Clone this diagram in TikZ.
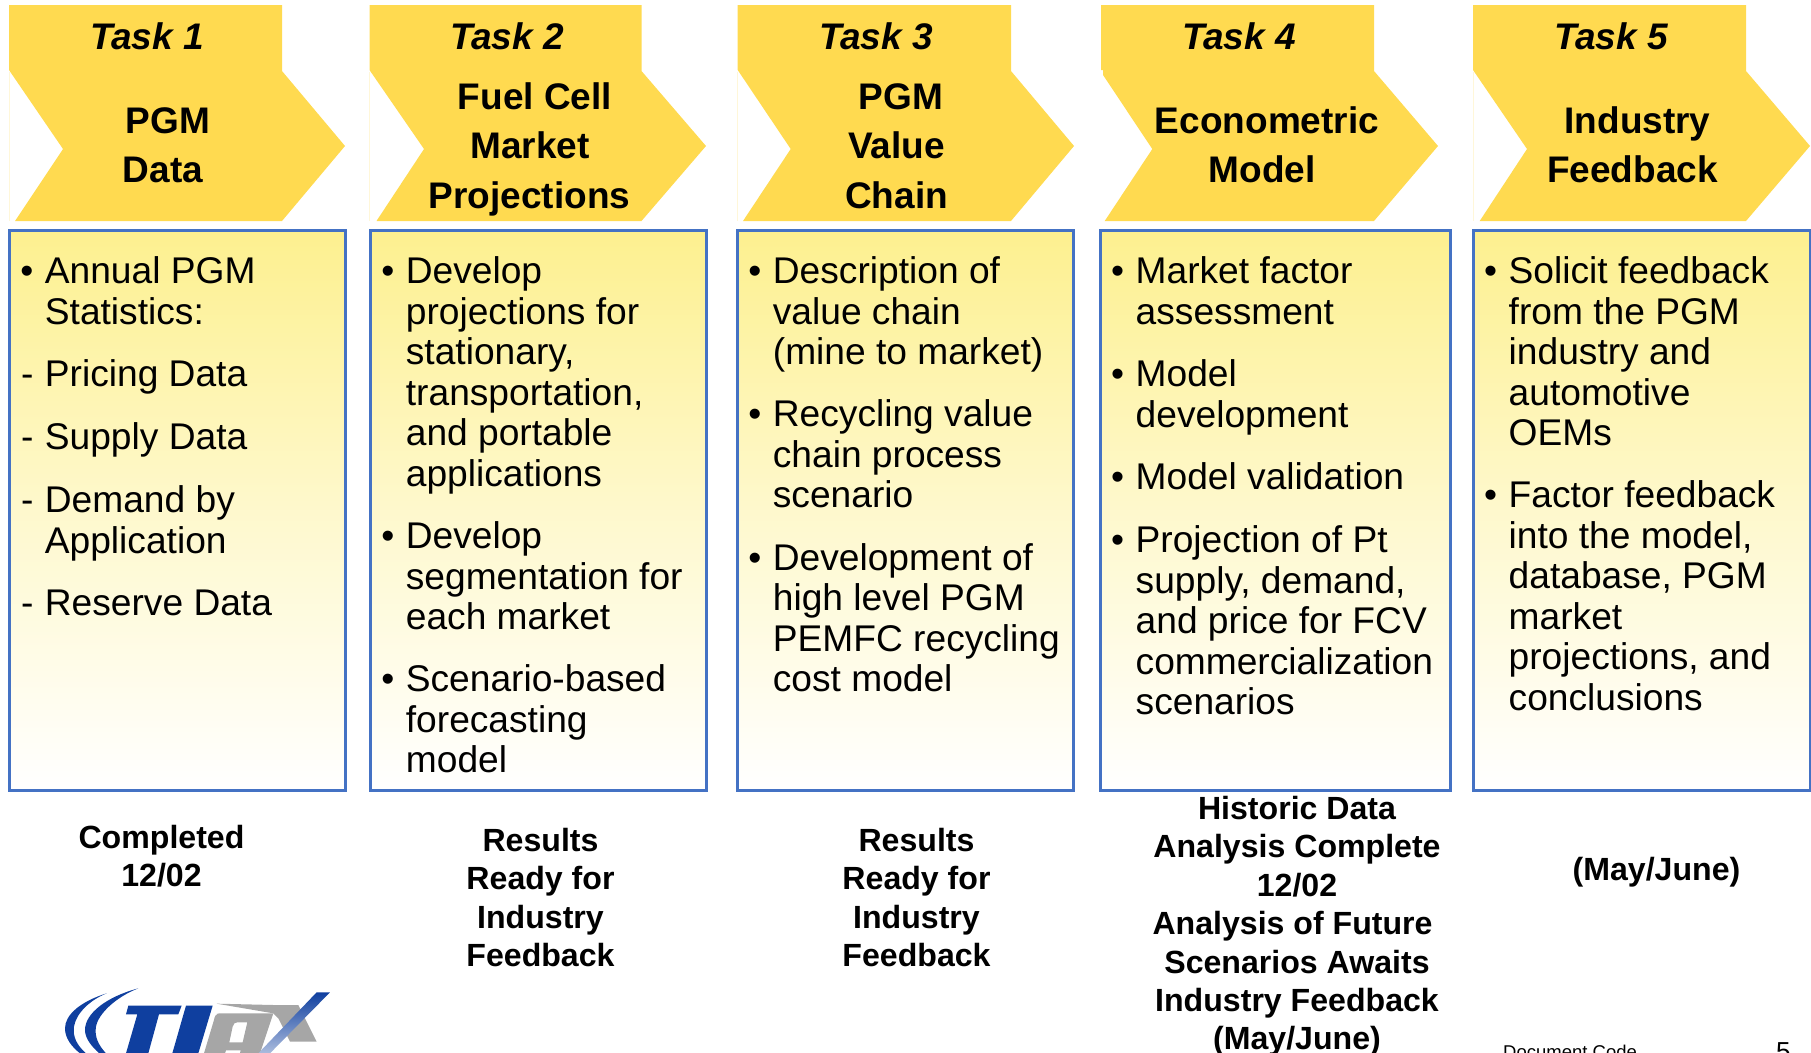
\documentclass[tikz,border=0pt]{standalone}
\usepackage{fontspec}
\setmainfont{Liberation Sans}
\definecolor{gold}{HTML}{FFDA50}
\definecolor{boxblue}{HTML}{4472C4}
\definecolor{boxtop}{HTML}{FDF08F}
\definecolor{logoblue}{HTML}{0F3F9F}
\definecolor{logogrey}{HTML}{A6A6A6}
\tikzset{
  chevron/.style={fill=gold,draw=none},
  edgeline/.style={draw=gold!22,line width=0.8pt},
  taskbox/.style={draw=boxblue,line width=3pt,top color=boxtop,bottom color=white,middle color=boxtop!45!white},
  headline/.style={anchor=base,inner sep=0pt,font=\fontsize{37}{37}\selectfont\bfseries},
  tasktitle/.style={anchor=base,inner sep=0pt,font=\fontsize{37}{37}\selectfont\bfseries\itshape},
  bodypara/.style={anchor=north west,inner sep=0pt,align=left,font=\fontsize{37.15}{40.5}\selectfont},
  result/.style={anchor=north,inner sep=0pt,align=center,font=\fontsize{32.1}{38.4}\selectfont\bfseries},
  logomark/.style={fill=logoblue,draw=none},
  logogreyed/.style={fill=logogrey,draw=none},
}
\newcommand{\bl}{\leavevmode\llap{•\hspace{11.5pt}}}
\newcommand{\da}{\leavevmode\llap{-\hspace{11.5pt}}}
\newcommand{\chev}[5]{% left, top-right, tip, lower-left, notch
  \fill[chevron] (#1,5) -- (#2,5) -- (#2,71) -- (#3,146) -- (#2,221) -- (#4,221) -- (#5,149) -- (#1,70) -- cycle;
  \draw[edgeline] (#1,72) -- (#1,221);
}
\begin{document}
\begin{tikzpicture}[x=1pt,y=-1pt]
\useasboundingbox (0,0) rectangle (1811,1052);
% chevrons
\chev{9}{282}{345}{15}{63}
\chev{369.5}{641.5}{706}{376.5}{424}
\chev{737.7}{1011}{1074}{743}{790.7}
\fill[chevron] (1101,5) -- (1374,5) -- (1374,71) -- (1438,146) -- (1374,221) -- (1104.7,221) -- (1152.3,149) -- (1103,75) -- (1103,70) -- (1101,70) -- cycle;
\chev{1473}{1746}{1810}{1479.7}{1527}
% boxes
\path[taskbox] (9.5,230) rectangle (345,790);
\path[taskbox] (370.5,230) rectangle (706.5,790);
\path[taskbox] (737.5,230) rectangle (1073,790);
\path[taskbox] (1100.5,230) rectangle (1450.5,790);
\path[taskbox] (1473.5,230) rectangle (1810,790);
% titles
\node[tasktitle] (t1) at (147,49) {Task 1};
\node[tasktitle] (t2) at (507,49) {Task 2};
\node[tasktitle] (t3) at (876,49) {Task 3};
\node[tasktitle] (t4) at (1239,49) {Task 4};
\node[tasktitle] (t5) at (1611,49) {Task 5};
% headers
\node[headline] (h1a) at (168,133) {PGM};
\node[headline] (h1b) at (163,182) {Data};
\node[headline] (h2a) at (535,109) {Fuel Cell};
\node[headline] (h2b) at (530,158) {Market};
\node[headline] (h2c) at (529.5,208) {Projections};
\node[headline] (h3a) at (901,109) {PGM};
\node[headline] (h3b) at (896.5,158) {Value};
\node[headline] (h3c) at (896.5,208) {Chain};
\node[headline] (h4a) at (1267,133) {Econometric};
\node[headline] (h4b) at (1262,182) {Model};
\node[headline] (h5a) at (1637.5,133) {Industry};
\node[headline] (h5b) at (1632.5,182) {Feedback};
% body T1
\node[bodypara] (a1) at (44.7,256.4) {\bl Annual PGM\\Statistics:};
\node[bodypara] (a2) at (44.7,359.4) {\da Pricing Data};
\node[bodypara] (a3) at (44.7,422.4) {\da Supply Data};
\node[bodypara] (a4) at (44.7,485.4) {\da Demand by\\Application};
\node[bodypara] (a5) at (44.7,590) {\da Reserve Data};
% body T2
\node[bodypara] (b1) at (405.7,256.4) {\bl Develop\\projections for\\stationary,\\transportation,\\and portable\\applications};
\node[bodypara] (b2) at (405.7,521.4) {\bl Develop\\segmentation for\\each market};
\node[bodypara] (b3) at (405.7,664.4) {\bl Scenario-based\\forecasting\\model};
% body T3
\node[bodypara] (c1) at (772.7,256.4) {\bl Description of\\value chain\\(mine to market)};
\node[bodypara] (c2) at (772.7,399.4) {\bl Recycling value\\chain process\\scenario};
\node[bodypara] (c3) at (772.7,543) {\bl Development of\\high level PGM\\PEMFC recycling\\cost model};
% body T4
\node[bodypara] (d1) at (1135.5,256.4) {\bl Market factor\\assessment};
\node[bodypara] (d2) at (1135.5,359.4) {\bl Model\\development};
\node[bodypara] (d3) at (1135.5,462.4) {\bl Model validation};
\node[bodypara] (d4) at (1135.5,525.4) {\bl Projection of Pt\\supply, demand,\\and price for FCV\\commercialization\\scenarios};
% body T5
\node[bodypara] (e1) at (1508.5,256.4) {\bl Solicit feedback\\from the PGM\\industry and\\automotive\\OEMs};
\node[bodypara] (e2) at (1508.5,480.5) {\bl Factor feedback\\into the model,\\database, PGM\\market\\projections, and\\conclusions};
% results
\node[result] (r1) at (161.5,825) {Completed\\12/02};
\node[result] (r2) at (540.5,828) {Results\\Ready for\\Industry\\Feedback};
\node[result] (r3) at (916.5,828) {Results\\Ready for\\Industry\\Feedback};
\node[result] (r4) at (1297,796) {Historic Data\\Analysis Complete\\12/02\\Analysis of Future\rule{9pt}{0pt}\\Scenarios Awaits\\Industry Feedback\\(May/June)};
\node[result] (r5) at (1656.5,857) {(May/June)};
% footer
\node[anchor=base west,inner sep=0pt,font=\fontsize{18.5}{20}\selectfont] (code) at (1503,1058) {Document Code};
\node[anchor=base west,inner sep=0pt,font=\fontsize{26}{28}\selectfont] (page) at (1776,1060) {5};
% logo (px = 60 + zx/3, 985 + zy/3 in the zoomed crop)
\begin{scope}[shift={(60,985)},x=0.3333pt,y=-0.3333pt]
  \clip (0,0) rectangle (840,201);
  \fill[logomark] (140,25) .. controls (60,50) and (15,90) .. (15,130) .. controls (15,160) and (35,185) .. (60,205) -- (78,205) .. controls (50,180) and (38,155) .. (42,125) .. controls (48,85) and (90,45) .. (140,25) -- cycle;
  \fill[logomark] (235,10) .. controls (140,35) and (75,85) .. (75,135) .. controls (75,160) and (95,185) .. (118,205) -- (138,205) .. controls (115,180) and (103,155) .. (108,125) .. controls (115,85) and (170,35) .. (235,10) -- cycle;
  \fill[logomark] (205,62) -- (365,62) -- (355,88) -- (297,88) -- (265,205) -- (198,205) -- (232,88) -- (198,88) -- cycle;
  \fill[logomark] (378,62) -- (458,62) -- (415,205) -- (337,205) -- cycle;
  \fill[logogreyed] (470,56) -- (640,60) -- (715,60) -- (770,170) -- (690,170) -- (655,100) -- (640,85) -- cycle;
  \fill[logogreyed,even odd rule] (470,85) -- (640,85) -- (600,205) -- (432,205) -- (462,105) .. controls (464,92) and (468,87) .. (480,85) -- cycle
     (532,112) -- (562,112) -- (548,172) -- (508,172) -- (518,125) .. controls (520,116) and (525,112) .. (532,112) -- cycle
     (498,196) -- (542,196) -- (540,205) -- (495,205) -- cycle;
  \shade[top color=logoblue,bottom color=logoblue!35!white] (770,22) -- (810,22) -- (630,205) -- (595,205) -- cycle;
\end{scope}
\end{tikzpicture}
\end{document}
